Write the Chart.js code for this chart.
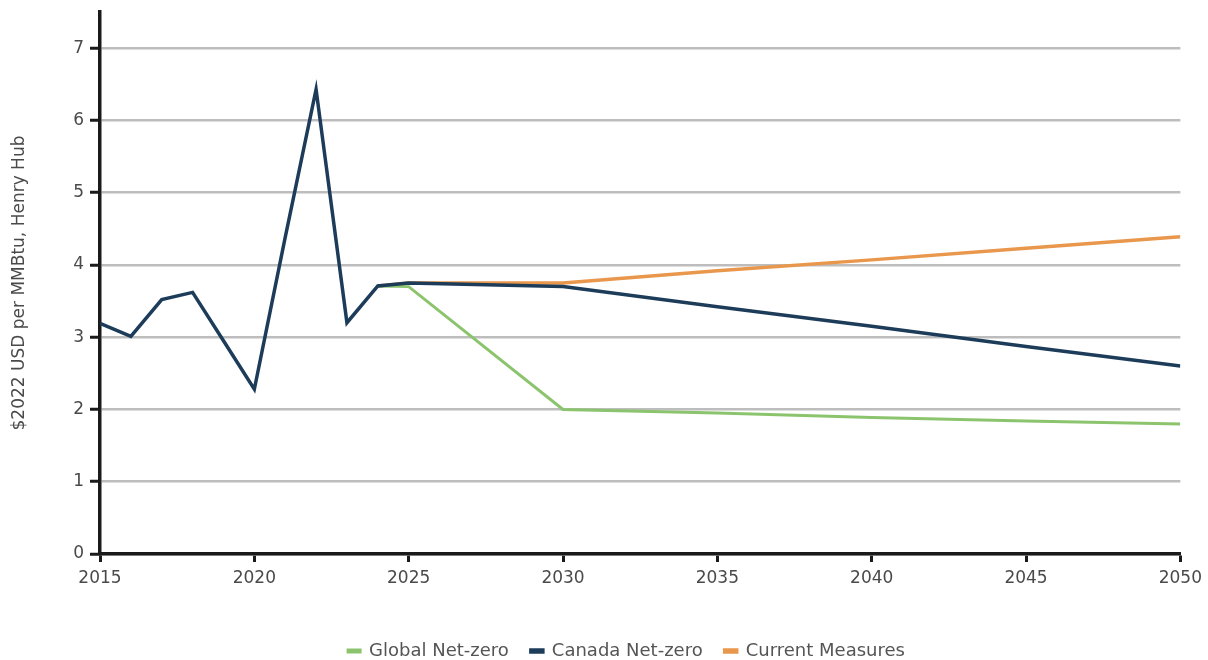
<!DOCTYPE html>
<html lang="en">
<head>
  <meta charset="UTF-8">
  <title>Henry Hub Natural Gas Price Outlook</title>
  <script src="https://cdn.jsdelivr.net/npm/chart.js"></script>
  <style>
    html, body { margin: 0; padding: 0; background: #fff; }
    #wrap { width: 1208px; height: 660px; }
  </style>
</head>
<body>
  <div id="wrap"><canvas id="chart" width="1208" height="660"></canvas></div>

  <script>
    // years with values: history yearly, projections every 5 years
    const years = [2015, 2016, 2017, 2018, 2019, 2020, 2021, 2022, 2023, 2024, 2025,
                   2030, 2035, 2040, 2045, 2050];
    const canadaNetZero = [3.19, 3.01, 3.52, 3.62, 2.95, 2.28, 4.38, 6.43, 3.2, 3.71, 3.75,
                           3.7, 3.42, 3.15, 2.87, 2.6];
    const globalNetZero = [null, null, null, null, null, null, null, null, null, 3.71, 3.7,
                           2.0, 1.95, 1.89, 1.84, 1.8];
    const currentMeasures = [null, null, null, null, null, null, null, null, null, 3.71, 3.75,
                             3.75, 3.92, 4.07, 4.23, 4.39];
    const xTicks = [2015, 2020, 2025, 2030, 2035, 2040, 2045, 2050];
    const yTicks = [0, 1, 2, 3, 4, 5, 6, 7];

    const toPoints = vals => years.map((yr, i) => ({ x: yr, y: vals[i] }));

    const font = { family: '"DejaVu Sans", sans-serif', size: 17 };
    const legendFont = { family: '"DejaVu Sans", sans-serif', size: 18 };
    const textColor = '#4a4a4a';

    // nudge the legend a little right and down from where the layout puts it
    const legendNudge = {
      id: 'legendNudge',
      afterLayout(chart) {
        const lg = chart.legend;
        if (!lg) return;
        lg.left += 36; lg.right += 36;
        lg.top += 10; lg.bottom += 10;
      }
    };

    new Chart(document.getElementById('chart'), {
      type: 'line',
      data: {
        datasets: [
          {
            label: 'Global Net-zero',
            data: toPoints(globalNetZero),
            borderColor: '#8cc46e',
            backgroundColor: '#8cc46e',
            borderWidth: 3,
            order: 1
          },
          {
            label: 'Canada Net-zero',
            data: toPoints(canadaNetZero),
            borderColor: '#1d3c5a',
            backgroundColor: '#1d3c5a',
            borderWidth: 3.5,
            order: 0
          },
          {
            label: 'Current Measures',
            data: toPoints(currentMeasures),
            borderColor: '#e9974c',
            backgroundColor: '#e9974c',
            borderWidth: 3.5,
            order: 2
          }
        ]
      },
      plugins: [legendNudge],
      options: {
        responsive: false,
        animation: false,
        layout: { padding: { top: 12, right: 27, bottom: 0, left: 0 } },
        elements: {
          point: { radius: 0, hoverRadius: 0 },
          line: { tension: 0, borderJoinStyle: 'miter' }
        },
        plugins: {
          tooltip: { enabled: false },
          legend: {
            position: 'bottom',
            labels: {
              font: legendFont,
              color: '#555',
              boxWidth: 12,
              boxHeight: 2,
              padding: 22,
              sort: (a, b) => a.datasetIndex - b.datasetIndex
            }
          }
        },
        scales: {
          x: {
            type: 'linear',
            min: 2015,
            max: 2050,
            afterBuildTicks: scale => { scale.ticks = xTicks.map(v => ({ value: v })); },
            afterFit: scale => { scale.height = 56; },
            border: { color: '#1a1a1a', width: 3.5 },
            grid: {
              drawOnChartArea: false,
              drawTicks: true,
              tickLength: 8,
              tickColor: '#1a1a1a',
              tickWidth: 3
            },
            ticks: {
              font: font,
              color: textColor,
              padding: 6,
              maxRotation: 0,
              callback: v => String(v)
            }
          },
          y: {
            min: 0,
            max: 7.5,
            afterBuildTicks: scale => { scale.ticks = yTicks.map(v => ({ value: v })); },
            afterFit: scale => { scale.width = 100; scale.paddingTop = 0; },
            border: { color: '#1a1a1a', width: 3.5 },
            grid: {
              color: '#bdbdbd',
              lineWidth: 2.5,
              drawTicks: true,
              tickLength: 10,
              tickColor: '#1a1a1a',
              tickWidth: 3
            },
            ticks: {
              font: font,
              color: textColor,
              padding: 6
            },
            title: {
              display: true,
              text: '$2022 USD per MMBtu, Henry Hub',
              font: font,
              color: textColor,
              padding: { top: 9, bottom: 0 }
            }
          }
        }
      }
    });
  </script>
</body>
</html>
